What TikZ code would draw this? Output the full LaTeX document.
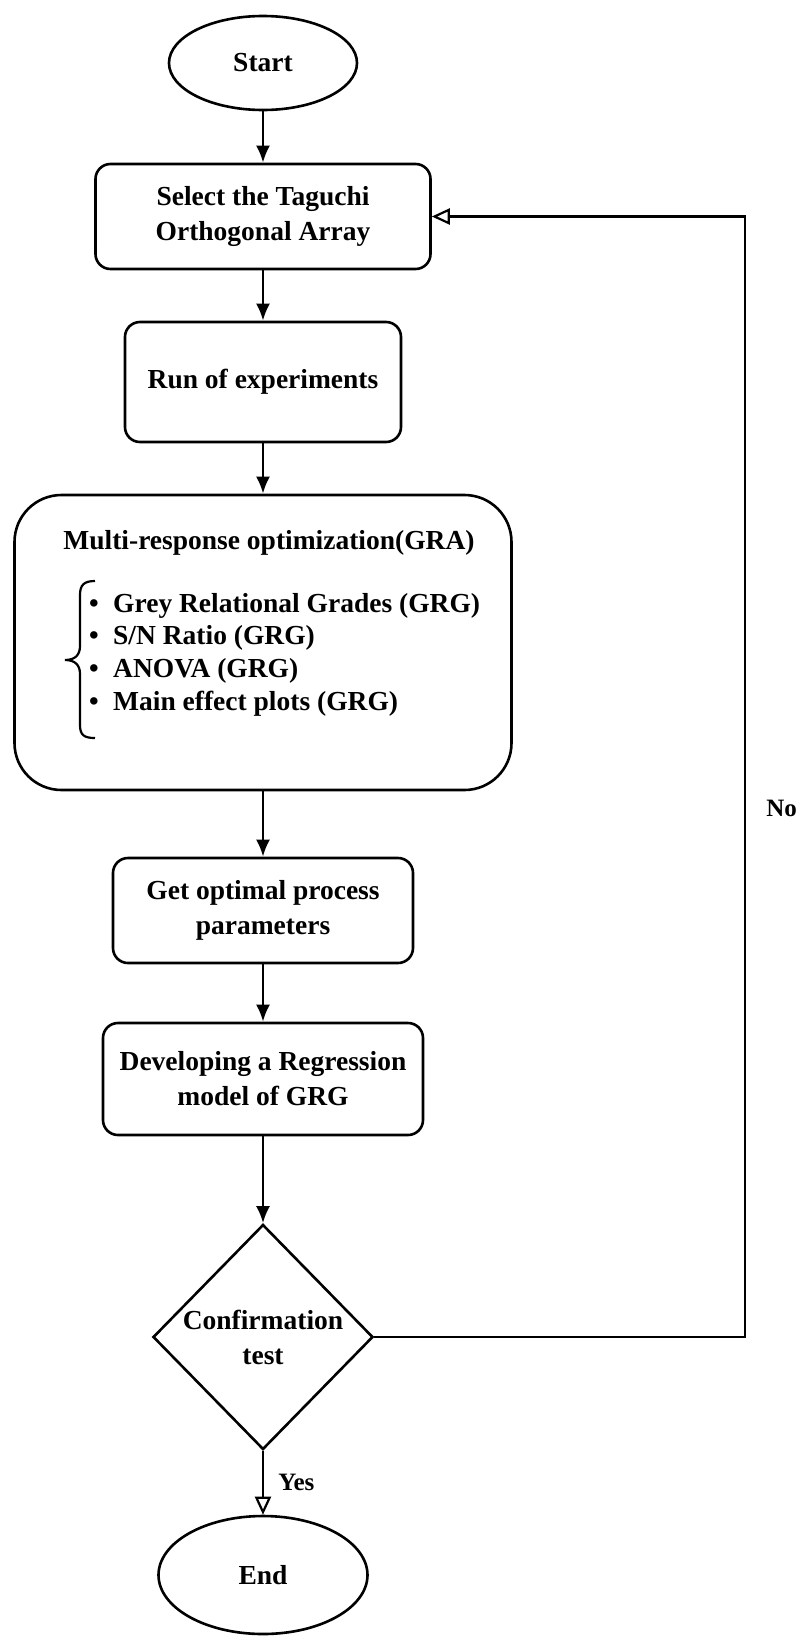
\documentclass[tikz,border=0pt]{standalone}
\usepackage{fontspec}
\setmainfont{Liberation Serif}
\usetikzlibrary{shapes.geometric,arrows.meta}

\tikzset{
  proc/.style={draw, line width=2.6pt, rounded corners=15pt, align=center, inner sep=0pt},
  oval/.style={draw, ellipse, line width=2.6pt, inner sep=0pt},
  decide/.style={draw, diamond, aspect=1, line width=2.6pt, align=center, inner sep=0pt},
  item/.style={anchor=west, inner sep=0pt},
  flow/.style={line width=2.6pt, -{Latex[length=17pt,width=14pt]}},
  openflow/.style={line width=2.6pt, -{Triangle[open,length=18pt,width=16pt,line width=2.2pt]}},
  tag/.style={font=\fontsize{25pt}{30pt}\selectfont\bfseries, inner sep=0pt},
}

\begin{document}
\begin{tikzpicture}[font=\fontsize{27.5pt}{35pt}\selectfont\bfseries, x=1pt, y=1pt]
\useasboundingbox (0,0) rectangle (803,-1638);

% ── MAIN COLUMN (centre x=263) ───────────────────────────────────────────
\node[oval, minimum width=188pt, minimum height=94pt] (start) at (263,-63) {Start};
\node[proc, minimum width=335pt, minimum height=105pt] (select) at (263,-216.5)
  {Select the Taguchi\\Orthogonal Array};
\node[proc, minimum width=276pt, minimum height=120pt] (run) at (263,-382)
  {Run of experiments};
\node[proc, rounded corners=47pt, minimum width=497pt, minimum height=295pt] (multi)
  at (263,-642.5) {};
\node[proc, minimum width=300pt, minimum height=105pt] (optim) at (263,-910.5)
  {Get optimal process\\parameters};
\node[proc, minimum width=320pt, minimum height=112pt] (regress) at (263,-1079)
  {Developing a Regression\\model of GRG};
\node[decide, minimum width=220pt, minimum height=225pt] (confirm) at (263,-1337)
  {Confirmation\\test};
\node[oval, minimum width=209pt, minimum height=118pt] (stop) at (263,-1575) {End};

% ── CONTENT OF THE GRA BOX ───────────────────────────────────────────────
\node (mhead) at (269,-543) {Multi-response optimization(GRA)};
\node[item] (grg)   at (89,-606) {\makebox[24pt][l]{\textbullet}Grey Relational Grades (GRG)};
\node[item] (snr)   at (89,-638) {\makebox[24pt][l]{\textbullet}S/N Ratio (GRG)};
\node[item] (anova) at (89,-671) {\makebox[24pt][l]{\textbullet}ANOVA (GRG)};
\node[item] (meff)  at (89,-704) {\makebox[24pt][l]{\textbullet}Main effect plots (GRG)};

% left brace (x: tip 65, spine 80, hooks 95)
\draw[line width=2.2pt]
  (95,-581) .. controls (84,-581) and (80,-585) .. (80,-595) -- (80,-646)
  .. controls (80,-655) and (75,-660) .. (65,-660)
  .. controls (75,-660) and (80,-665) .. (80,-674) -- (80,-725)
  .. controls (80,-735) and (84,-738) .. (95,-738);

% ── CONNECTORS ───────────────────────────────────────────────────────────
\draw[flow] (start) -- (select);
\draw[flow] (select) -- (run);
\draw[flow] (run) -- (multi);
\draw[flow] (multi) -- (optim);
\draw[flow] (optim) -- (regress);
\draw[flow] (regress) -- (confirm);
\draw[openflow] (confirm) -- node[tag, right=14pt] (yes) {Yes} (stop);

% feedback loop back to the array selection
\coordinate (fb) at (745,-216.5);
\draw[openflow] (confirm.east) -| node[tag, pos=0.736, right=20pt] (no) {No} (fb) -- (select.east);

\end{tikzpicture}
\end{document}
